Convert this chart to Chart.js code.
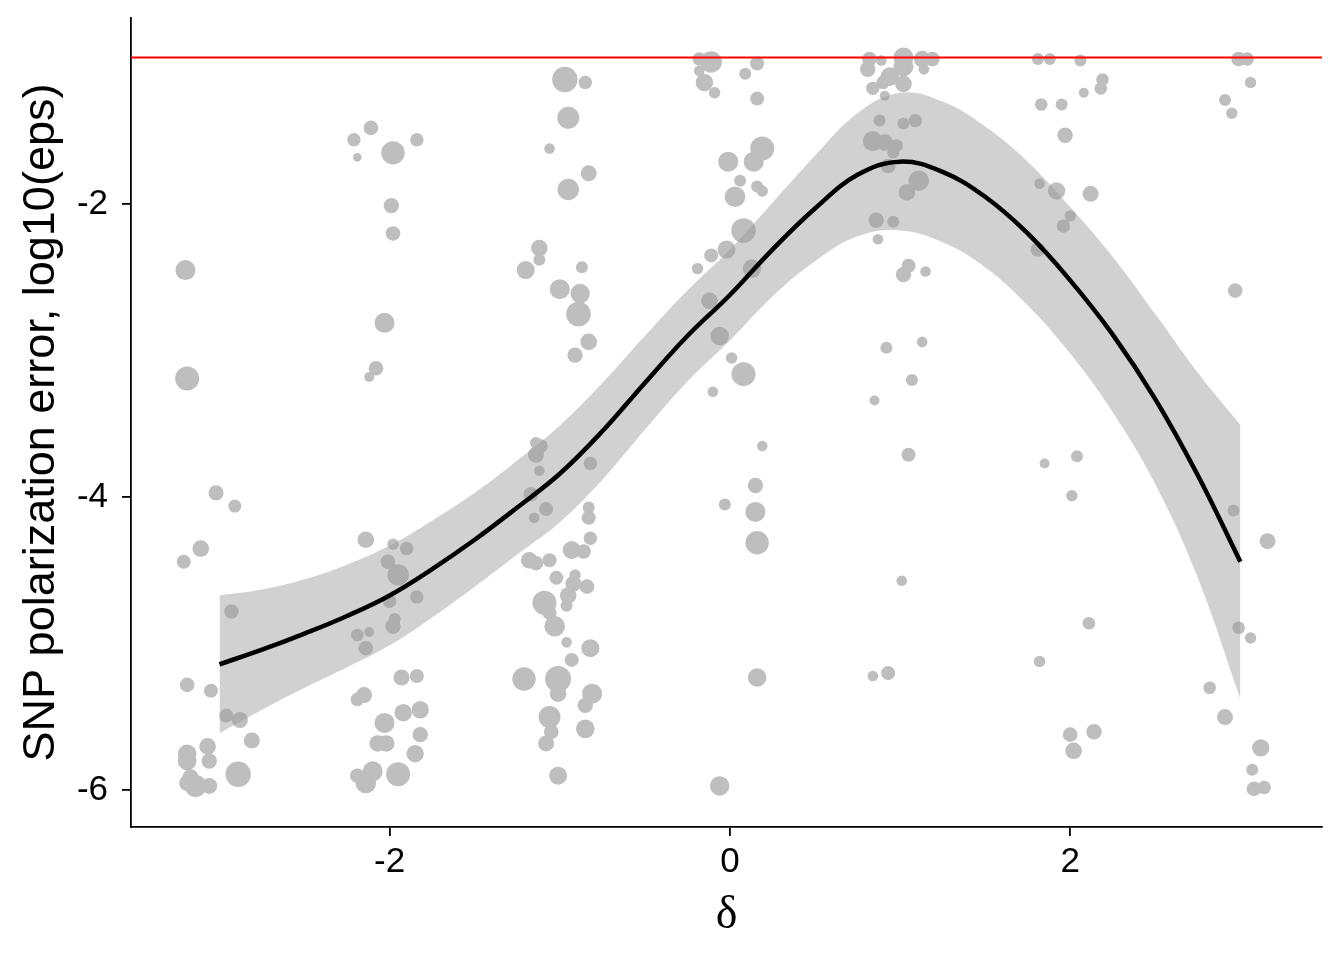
<!DOCTYPE html>
<html><head><meta charset="utf-8">
<script src="https://cdn.jsdelivr.net/npm/chart.js@4.4.0/dist/chart.umd.min.js"></script>
<style>html,body{margin:0;padding:0;background:#fff;} canvas{display:block;}</style>
</head><body>
<canvas id="c" width="1344" height="960"></canvas>
<script>
// ---------------- data ----------------
const xTicks = [-2, 0, 2];
const yTicks = [-6, -4, -2];
const xRange = [-3.52, 3.48];
const yRange = [-6.25, -0.73];
const thresholdY = -1;

// jittered observations (delta, log10 eps) and their size variable
const ptX = [
  -3.20,-3.19,-3.02,-2.91,-3.11,-3.21,-2.93,-3.19,-3.05,-2.96,-2.88,-2.81,-3.07,-3.19,-3.19,-3.06,-2.89,-3.17,-3.14,-3.06,-3.19,
  -2.11,-2.21,-1.84,-2.19,-1.98,-1.99,-1.98,-2.03,-2.08,-2.12,-2.14,-1.98,-1.90,-2.01,-1.95,-2.00,-1.84,-1.97,-1.98,-2.12,-2.19,-2.14,-1.93,-1.84,-2.15,-2.19,-2.03,-1.92,-1.82,-2.02,-2.07,-1.82,-1.85,-1.95,-2.14,-2.10,-2.19,
  -0.97,-0.85,-0.95,-1.06,-0.83,-0.95,-1.12,-1.12,-1.20,-0.87,-1.00,-0.88,-0.89,-0.83,-0.91,-1.14,-1.11,-1.14,-1.12,-0.82,-1.17,-1.08,-1.15,-0.83,-0.83,-0.82,-1.18,-1.14,-1.06,-0.93,-0.86,-1.02,-0.91,-0.92,-0.84,-1.09,-0.95,-0.96,-1.06,-1.03,-0.96,-0.82,-0.93,-1.21,-1.01,-1.01,-0.81,-0.85,-1.06,-1.05,-1.08,-0.85,-1.01,
  -0.18,-0.11,-0.18,-0.15,-0.09,0.16,0.09,0.16,-0.01,0.19,0.14,0.06,0.16,0.19,0.03,0.08,-0.02,-0.11,-0.19,0.13,-0.12,-0.06,0.01,0.08,-0.10,0.19,0.15,-0.03,0.15,0.16,0.16,-0.06,
  0.82,0.89,0.81,1.02,1.13,1.19,1.02,1.14,0.94,0.90,0.84,1.02,0.91,0.88,1.02,1.09,0.84,0.91,0.98,0.96,0.93,1.11,1.04,0.86,0.96,0.87,1.05,1.02,1.15,0.92,1.13,1.07,0.85,1.05,1.01,0.84,0.93,
  1.81,1.88,2.06,2.19,2.18,2.08,1.83,1.95,1.97,1.82,1.92,2.12,2.00,1.96,1.81,1.85,2.04,2.01,2.11,1.82,2.00,2.14,2.02,
  2.99,3.04,3.06,2.91,2.95,2.97,2.96,3.16,2.99,3.06,2.82,2.91,3.12,3.07,3.08,3.14
];
const ptY = [
  -2.45,-3.19,-3.97,-4.06,-4.35,-4.44,-4.78,-5.28,-5.32,-5.49,-5.52,-5.66,-5.70,-5.75,-5.80,-5.80,-5.89,-5.91,-5.97,-5.97,-5.95,
  -1.48,-1.56,-1.56,-1.68,-1.65,-2.01,-2.20,-2.81,-3.12,-3.18,-4.29,-4.32,-4.35,-4.44,-4.53,-4.71,-4.68,-4.83,-4.88,-4.92,-4.94,-5.03,-5.23,-5.22,-5.35,-5.38,-5.54,-5.47,-5.45,-5.68,-5.68,-5.62,-5.75,-5.89,-5.95,-5.87,-5.90,
  -1.15,-1.17,-1.41,-1.62,-1.79,-1.90,-2.30,-2.38,-2.45,-2.43,-2.58,-2.61,-2.75,-2.94,-3.03,-3.63,-3.65,-3.71,-3.82,-3.77,-3.98,-4.08,-4.14,-4.07,-4.14,-4.28,-4.43,-4.45,-4.43,-4.36,-4.37,-4.55,-4.53,-4.59,-4.61,-4.72,-4.67,-4.74,-4.79,-4.88,-4.99,-5.03,-5.11,-5.24,-5.24,-5.34,-5.34,-5.42,-5.50,-5.60,-5.68,-5.58,-5.90,
  -1.01,-1.03,-1.09,-1.17,-1.24,-1.04,-1.11,-1.28,-1.71,-1.62,-1.71,-1.84,-1.88,-1.91,-1.95,-2.18,-2.31,-2.35,-2.44,-2.44,-2.66,-2.90,-3.05,-3.16,-3.28,-3.65,-3.92,-4.05,-4.10,-4.31,-5.23,-5.97,
  -1.01,-1.02,-1.08,-1.00,-1.01,-1.01,-1.06,-1.08,-1.13,-1.17,-1.21,-1.18,-1.26,-1.43,-1.45,-1.43,-1.57,-1.58,-1.60,-1.65,-1.74,-1.84,-1.92,-2.11,-2.12,-2.24,-2.42,-2.48,-2.46,-2.98,-2.94,-3.20,-3.34,-3.71,-4.57,-5.22,-5.20,
  -1.01,-1.01,-1.02,-1.15,-1.21,-1.24,-1.32,-1.32,-1.53,-1.86,-1.91,-1.93,-2.08,-2.15,-2.31,-3.77,-3.72,-3.99,-4.86,-5.12,-5.62,-5.60,-5.73,
  -1.01,-1.01,-1.17,-1.29,-1.38,-2.59,-4.09,-4.30,-4.89,-4.96,-5.30,-5.50,-5.71,-5.86,-5.99,-5.98
];
const ptWeight = [
  10,12,7.5,6.5,8.3,7,7.3,7.3,7,7,8,8,8.3,9.3,9.3,7.7,12.7,8,11,8,8,
  7.3,6.7,6.7,4.3,11.7,7.7,7.3,10,7.3,5,8.3,5.7,6.7,7.3,10.7,6.7,6.7,6,7.7,5,6.3,7.3,8,7,8,6.7,10,8.7,8.7,8.3,8.3,7.7,8.7,12,10.3,10,7.3,
  12.7,6.7,11,5.3,8,10.7,8.3,6,9,6,10,9.7,12.3,8.3,7.7,6,6.7,8,5.3,6.7,7.3,7,5.3,6,7,6.7,8.3,7.3,7,9,7.3,7,5.7,8,7.3,12,8.3,6,7,10.3,5.3,9,7,11.7,13,8.3,10,7.7,11,7.3,8,9.3,9,
  6.7,10.7,5.3,8.7,5.7,7,6,7,10,12,10,6,6,5.7,10.3,12.3,9,7,5.7,9.3,8.3,9.3,5.7,12,5.3,5.3,7.7,6,10,11.7,9.3,9.7,
  7.3,5.3,7.7,10,8.3,7.3,10,5.3,9.3,6.7,6.7,8.3,5,6,6,6.7,10,8.3,6.3,6,7.3,10.3,8.3,7.7,6,5.3,7,7.7,5.3,6,5.3,6,5,7,5.3,5.3,7,
  6,6,6,6.3,6.3,5,6.3,6,7.7,5.3,8.7,8,5.7,6.7,7.3,5,6,5.7,6.3,5.7,7.3,7.7,8.3,
  7.3,6.7,5.7,6,5.7,7.3,6,8,6.3,5.7,6.3,8,8.7,6,7.3,6.7
];

// loess fit and its confidence half-width
const fitX = [-3,-2.75,-2.5,-2.25,-2,-1.75,-1.5,-1.25,-1,-0.75,-0.5,-0.25,0,0.25,0.5,0.75,1,1.25,1.5,1.75,2,2.25,2.5,2.75,3];
const fitY = [-5.14,-5.04,-4.93,-4.81,-4.67,-4.49,-4.29,-4.07,-3.84,-3.55,-3.22,-2.90,-2.62,-2.31,-2.03,-1.80,-1.71,-1.78,-1.95,-2.20,-2.52,-2.89,-3.33,-3.85,-4.44];
const fitHalf = [0.47,0.41,0.37,0.35,0.34,0.33,0.32,0.32,0.33,0.33,0.32,0.31,0.31,0.32,0.36,0.42,0.47,0.48,0.48,0.49,0.50,0.53,0.58,0.70,0.935];

// ---------------- chart ----------------
const SANS = "'Liberation Sans', Arial, sans-serif";
const SERIF = "'Liberation Serif', 'Times New Roman', serif";

const points = ptX.map((x, i) => ({x: x, y: ptY[i]}));
const upper = fitX.map((x, i) => ({x: x, y: fitY[i] + fitHalf[i]}));
const lower = fitX.map((x, i) => ({x: x, y: fitY[i] - fitHalf[i]}));
const fit = fitX.map((x, i) => ({x: x, y: fitY[i]}));
const hline = [{x: xRange[0], y: thresholdY}, {x: xRange[1], y: thresholdY}];

const axisCommon = (isX) => ({
  type: 'linear',
  grid: {display: true, drawOnChartArea: false, drawTicks: true, tickLength: 9, color: '#000', lineWidth: 1.8},
  border: {display: true, color: '#000', width: 1.8},
  ticks: {color: '#000', font: {family: SANS, size: 35}, padding: isX ? 5 : 14, callback: v => String(v)}
});

new Chart(document.getElementById('c'), {
  type: 'line',
  data: {
    datasets: [
      {type: 'line', data: hline, borderColor: '#ff0000', borderWidth: 2, pointRadius: 0, fill: false, order: 0},
      {type: 'line', data: upper, borderColor: 'rgba(0,0,0,0)', borderWidth: 0, pointRadius: 0,
       fill: '+1', backgroundColor: 'rgba(153,153,153,0.45)', tension: 0.4, order: 2},
      {type: 'line', data: lower, borderColor: 'rgba(0,0,0,0)', borderWidth: 0, pointRadius: 0,
       fill: false, tension: 0.4, order: 2},
      {type: 'line', data: fit, borderColor: '#000', borderWidth: 4.5, pointRadius: 0, fill: false,
       tension: 0.4, order: 1},
      {type: 'scatter', data: points, pointRadius: ctx => ptWeight[ctx.dataIndex], pointHoverRadius: ctx => ptWeight[ctx.dataIndex],
       pointBackgroundColor: '#bebebe', pointBorderWidth: 0, pointBorderColor: 'rgba(0,0,0,0)', order: 3}
    ]
  },
  options: {
    responsive: false,
    animation: false,
    devicePixelRatio: 1,
    layout: {padding: {left: 0, right: 22, top: 18, bottom: 0}},
    plugins: {legend: {display: false}, tooltip: {enabled: false}},
    scales: {
      x: Object.assign(axisCommon(true), {
        min: xRange[0], max: xRange[1],
        afterBuildTicks: s => { s.ticks = xTicks.map(v => ({value: v})); },
        afterFit: s => { s.height = 133; s.paddingLeft = 0; s.paddingRight = 0; },
        title: {display: true, text: 'δ', color: '#000', font: {family: SERIF, size: 46}, padding: {top: 0, bottom: 16}}
      }),
      y: Object.assign(axisCommon(false), {
        min: yRange[0], max: yRange[1],
        afterBuildTicks: s => { s.ticks = yTicks.map(v => ({value: v})); },
        afterFit: s => { s.width = 131; s.paddingTop = 0; s.paddingBottom = 0; },
        title: {display: true, text: 'SNP polarization error, log10(eps)', color: '#000', font: {family: SANS, size: 45}, padding: {top: 15, bottom: 0}}
      })
    }
  }
});
</script>
</body></html>
